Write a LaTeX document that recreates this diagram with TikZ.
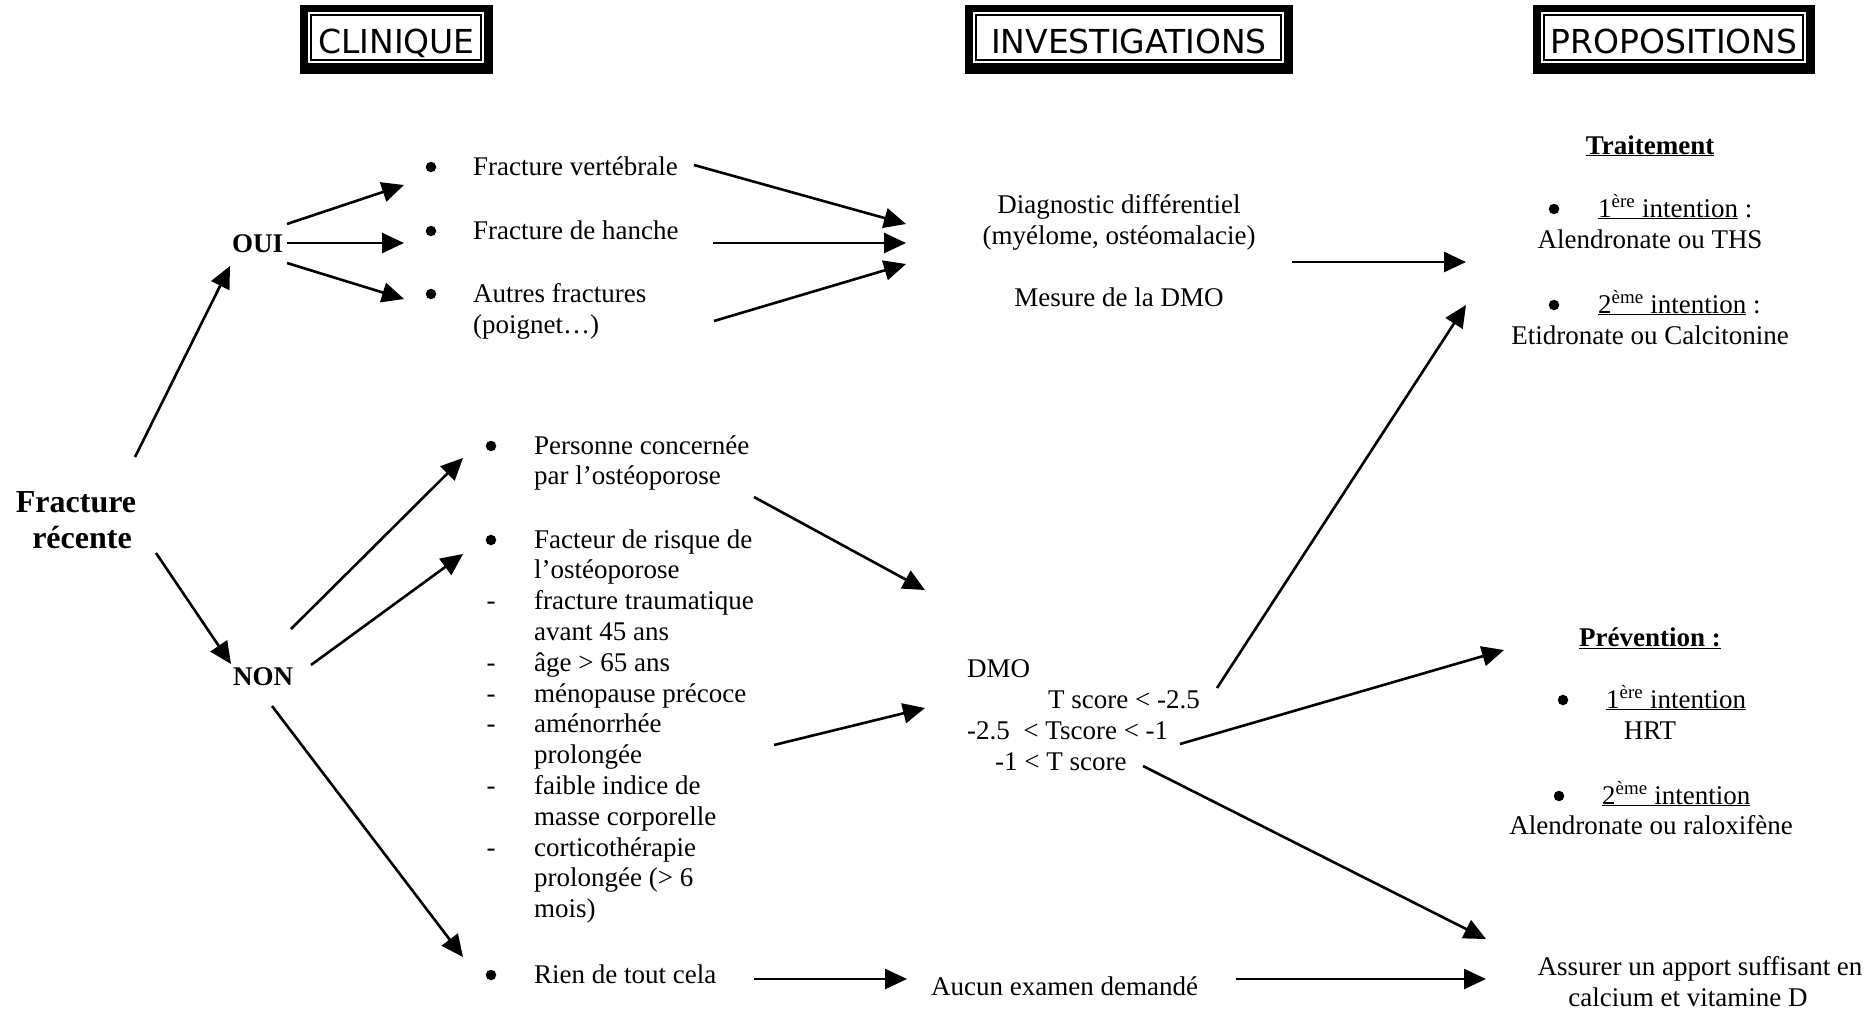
\documentclass[tikz,border=0pt]{standalone}
\usepackage{fontspec}
\setmainfont{Liberation Serif}
\newfontfamily\titlefont{DejaVu Sans}
\usetikzlibrary{arrows.meta}
\newcommand\mytitlebox[4]{%
  \fill (#2,5) rectangle (#3,74);
  \fill[white] (#2+8,12) rectangle (#3-9,63);
  \draw[line width=1.2pt] (#2+11,15) rectangle (#3-12,60);
  \node[titletxt] (#1) at ({(#2+#3)/2},53) {#4};
}
\begin{document}
\begin{tikzpicture}[x=1pt,y=-1pt,
  arr/.style={-{Triangle[length=22pt,width=20pt]}, line width=2.6pt},
  txt/.style={inner sep=0pt, font=\fontsize{27}{31}\selectfont},
  lt/.style={txt, anchor=base west},
  ct/.style={txt, anchor=base},
  dot/.style={circle, fill, inner sep=0pt, minimum size=10.5pt},
  bt/.style={inner sep=0pt, anchor=base west, font=\bfseries\fontsize{27}{31}\selectfont},
  titletxt/.style={inner sep=0pt, anchor=base, font=\titlefont\fontsize{33}{40}\selectfont}]
\useasboundingbox (0,0) rectangle (1876,1013);

% title boxes
\mytitlebox{clin}{300}{493}{CLINIQUE}
\mytitlebox{inv}{965}{1293}{INVESTIGATIONS}
\mytitlebox{prop}{1533}{1815}{PROPOSITIONS}

% left
\node[inner sep=0pt, anchor=base, font=\bfseries\fontsize{32}{36}\selectfont] (fr1) at (76,512) {Fracture};
\node[inner sep=0pt, anchor=base, font=\bfseries\fontsize{32}{36}\selectfont] (fr2) at (82,548) {récente};
\node[bt] (oui) at (232,252) {OUI};
\node[bt] (non) at (233,685) {NON};

% OUI items
\node[dot] (b1) at (431,167) {};
\node[lt] (fv) at (473,175) {Fracture vertébrale};
\node[dot] (b2) at (431,231) {};
\node[lt] (fh) at (473,239) {Fracture de hanche};
\node[dot] (b3) at (431,294) {};
\node[lt] (af1) at (473,302) {Autres fractures};
\node[lt] (af2) at (473,333) {(poignet\ldots)};

% NON items
\node[dot] (b4) at (491,446) {};
\node[lt] (pc1) at (534,454) {Personne concernée};
\node[lt] (pc2) at (534,484) {par l’ostéoporose};
\node[dot] (b5) at (491,540) {};
\foreach \m/\t [count=\i from 0] in {{}/{Facteur de risque de},{}/{l’ostéoporose},{-}/{fracture traumatique},{}/{avant 45 ans},{-}/{âge > 65 ans},{-}/{ménopause précoce},{-}/{aménorrhée},{}/{prolongée},{-}/{faible indice de},{}/{masse corporelle},{-}/{corticothérapie},{}/{prolongée (> 6},{}/{mois)}}{
  \node[ct] (fm\i) at (491,{548+30.8*\i}) {\m};
  \node[lt] (ft\i) at (534,{548+30.8*\i}) {\t};
}
\node[dot] (b6) at (491,975) {};
\node[lt] (rien) at (534,983) {Rien de tout cela};

% investigations
\node[ct] (dd1) at (1119,213) {Diagnostic différentiel};
\node[ct] (dd2) at (1119,244) {(myélome, ostéomalacie)};
\node[ct] (mes) at (1119,306) {Mesure de la DMO};
\node[lt] (dmo) at (967,677) {DMO};
\node[lt] (t1) at (1048,708) {T score < -2.5};
\node[lt] (t2) at (967,739) {-2.5 \ < Tscore < -1};
\node[lt] (t3) at (995,770) {-1 < T score};
\node[lt] (aucun) at (931,995) {Aucun examen demandé};

% propositions
\node[inner sep=0pt, anchor=base, font=\bfseries\fontsize{27}{31}\selectfont] (trait) at (1650,154) {\underline{Traitement}};
\node[dot] (tb1) at (1554,209) {};
\node[lt] (ti1) at (1598,217) {\underline{1\textsuperscript{ère} intention} :};
\node[ct] (ta1) at (1650,248) {Alendronate ou THS};
\node[dot] (tb2) at (1554,305) {};
\node[lt] (ti2) at (1598,313) {\underline{2\textsuperscript{ème} intention} :};
\node[ct] (ta2) at (1650,344) {Etidronate ou Calcitonine};

\node[inner sep=0pt, anchor=base, font=\bfseries\fontsize{27}{31}\selectfont] (prev) at (1650,646) {\underline{Prévention :}};
\node[dot] (pb1) at (1563,700) {};
\node[lt] (pi1) at (1606,708) {\underline{1\textsuperscript{ère} intention}};
\node[ct] (pa1) at (1650,739) {HRT};
\node[dot] (pb2) at (1559,796) {};
\node[lt] (pi2) at (1602,804) {\underline{2\textsuperscript{ème} intention}};
\node[ct] (pa2) at (1651,834) {Alendronate ou raloxifène};

\node[ct] (as1) at (1700,975) {Assurer un apport suffisant en};
\node[ct] (as2) at (1688,1006) {calcium et vitamine D};

% connector end points
\coordinate (frU) at (135,457);  \coordinate (ouiIn) at (230,266);
\coordinate (frD) at (156,553);  \coordinate (nonIn) at (231,664);
\coordinate (ouiA) at (287,224); \coordinate (fvIn) at (404,185);
\coordinate (ouiB) at (287,243); \coordinate (fhIn) at (404,243);
\coordinate (ouiC) at (287,263); \coordinate (afIn) at (404,299);
\coordinate (fvOut) at (694,165); \coordinate (ddA) at (906,224);
\coordinate (fhOut) at (713,243); \coordinate (ddB) at (906,243);
\coordinate (afOut) at (714,321); \coordinate (ddC) at (906,264);
\coordinate (ddOut) at (1292,262); \coordinate (traitA) at (1466,262);
\coordinate (nonA) at (291,629); \coordinate (pcIn) at (463,458);
\coordinate (nonB) at (311,665); \coordinate (ftIn) at (463,554);
\coordinate (nonC) at (272,706); \coordinate (rienIn) at (463,957);
\coordinate (pcOut) at (754,497); \coordinate (dmoA) at (925,590);
\coordinate (ftOut) at (774,745); \coordinate (dmoB) at (925,708);
\coordinate (t1Out) at (1217,688); \coordinate (traitB) at (1466,305);
\coordinate (t2Out) at (1180,744); \coordinate (prevIn) at (1504,650);
\coordinate (t3Out) at (1143,766); \coordinate (asA) at (1486,939);
\coordinate (rienOut) at (754,979); \coordinate (aucunIn) at (907,979);
\coordinate (aucunOut) at (1236,979); \coordinate (asB) at (1486,979);

\draw[arr] (frU) -- (ouiIn);
\draw[arr] (frD) -- (nonIn);
\draw[arr] (ouiA) -- (fvIn);
\draw[arr] (ouiB) -- (fhIn);
\draw[arr] (ouiC) -- (afIn);
\draw[arr] (fvOut) -- (ddA);
\draw[arr] (fhOut) -- (ddB);
\draw[arr] (afOut) -- (ddC);
\draw[arr] (ddOut) -- (traitA);
\draw[arr] (nonA) -- (pcIn);
\draw[arr] (nonB) -- (ftIn);
\draw[arr] (nonC) -- (rienIn);
\draw[arr] (pcOut) -- (dmoA);
\draw[arr] (ftOut) -- (dmoB);
\draw[arr] (t1Out) -- (traitB);
\draw[arr] (t2Out) -- (prevIn);
\draw[arr] (t3Out) -- (asA);
\draw[arr] (rienOut) -- (aucunIn);
\draw[arr] (aucunOut) -- (asB);
\end{tikzpicture}
\end{document}
